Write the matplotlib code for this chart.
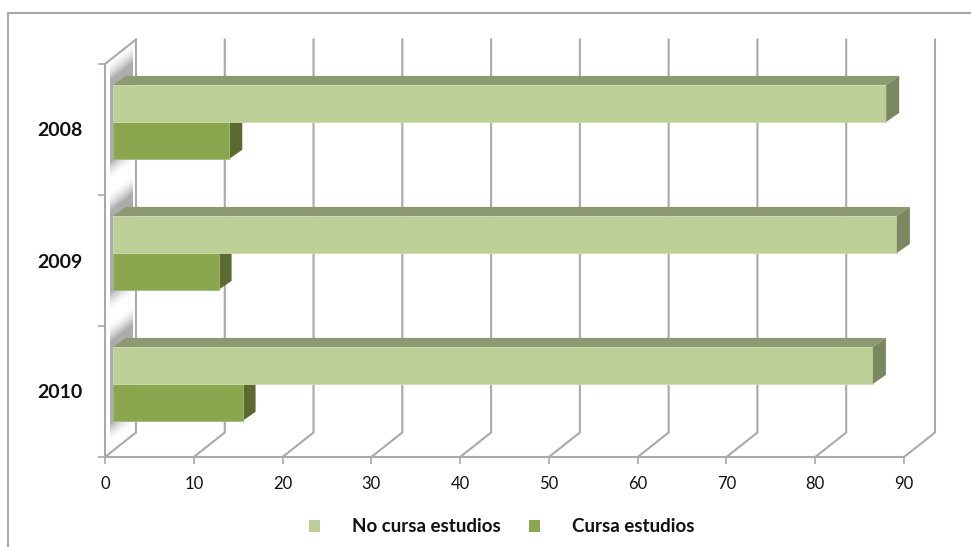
import matplotlib
matplotlib.use("Agg")
import matplotlib.pyplot as plt
import numpy as np
from matplotlib.lines import Line2D
from matplotlib.patches import Patch, Polygon

plt.rcParams['font.family'] = ['Lato', 'DejaVu Sans']

years = ["2008", "2009", "2010"]
no_cursa = [87.1, 88.3, 85.6]
cursa = [13.1, 11.9, 14.6]
x_ticks = [0, 10, 20, 30, 40, 50, 60, 70, 80, 90]

W, H = 971, 547
LIGHT = "#bbcf97"
LIGHT_TOP = "#8b9a71"
LIGHT_SIDE = "#7a8760"
DARK = "#8aa64f"
DARK_SIDE = "#5b6b30"
GRID = "#a9a9a9"

# fake 3d: sizes in data units (x = percent, y = category slots)
wall_dx, wall_dy = 3.49, 0.187
bar_x0 = 0.9
bar_dx, bar_dy = 1.46, 0.069
bar_h = 0.282
bar_y0 = 0.16

fig = plt.figure(figsize=(W / 100, H / 100), dpi=100)
ax = fig.add_axes([105 / W, 1 - 457 / H, (904 - 105) / W, (457 - 64) / H])

# chart frame, only top and left are there
fig.add_artist(Line2D([8 / W, 8 / W, 1], [0, 1 - 13 / H, 1 - 13 / H], color="#a8a8a8", lw=1.5))

# back wall gridlines and floor diagonals
for t in x_ticks:
    ax.plot([t, t + wall_dx, t + wall_dx], [3, 3 - wall_dy, -wall_dy], color=GRID, lw=1.5,
            clip_on=False, zorder=1, solid_joinstyle="miter")
ax.plot([0, wall_dx], [0, -wall_dy], color=GRID, lw=1.5, clip_on=False, zorder=1)

# soft shadow the bars leave on the side wall
xs = np.linspace(0.6, wall_dx - 0.4, 40)
ys = np.linspace(-wall_dy + 0.03, 3 - 0.03, 900)
xx, yy = np.meshgrid(xs, ys)
sheared = yy + (xx - bar_x0) * wall_dy / wall_dx
dist = np.full(xx.shape, 9.0)
for i in range(len(years)):
    top = i + bar_y0 - bar_dy + 0.02
    bottom = i + bar_y0 + 2 * bar_h
    d = np.where(sheared < top, top - sheared, np.where(sheared > bottom, sheared - bottom, 0))
    dist = np.minimum(dist, d)
alpha = np.clip(1 - dist / 0.15, 0, 1) ** 1.6 * 0.65
rgba = np.zeros(xx.shape + (4,))
rgba[..., :3] = 0.5
rgba[..., 3] = alpha
ax.imshow(rgba, extent=[xs[0], xs[-1], ys[-1], ys[0]], aspect="auto", zorder=0.5,
          interpolation="bilinear", clip_on=False)
ax.set_xlim(0, 90)
ax.set_ylim(3, 0)

# bars with their top and end faces
for i in range(len(years)):
    y_light = i + bar_y0
    y_dark = y_light + bar_h
    end_l = bar_x0 + no_cursa[i]
    end_d = bar_x0 + cursa[i]

    ax.barh(y_dark, cursa[i], bar_h, left=bar_x0, align="edge", color=DARK, zorder=3,
            edgecolor="#a3b97a", linewidth=0.6)
    ax.add_patch(Polygon([(end_d, y_dark), (end_d + bar_dx, y_dark - bar_dy),
                          (end_d + bar_dx, y_dark + bar_h - bar_dy), (end_d, y_dark + bar_h)],
                         facecolor=DARK_SIDE, edgecolor="none", zorder=2.5, clip_on=False))
    ax.barh(y_light, no_cursa[i], bar_h, left=bar_x0, align="edge", color=LIGHT, zorder=4,
            edgecolor="#cddcb2", linewidth=0.6)
    ax.add_patch(Polygon([(bar_x0, y_light), (bar_x0 + bar_dx, y_light - bar_dy),
                          (end_l + bar_dx, y_light - bar_dy), (end_l, y_light)],
                         facecolor=LIGHT_TOP, edgecolor="none", zorder=4, clip_on=False))
    ax.add_patch(Polygon([(end_l, y_light), (end_l + bar_dx, y_light - bar_dy),
                          (end_l + bar_dx, y_light + bar_h - bar_dy), (end_l, y_light + bar_h)],
                         facecolor=LIGHT_SIDE, edgecolor="none", zorder=4, clip_on=False))

ax.patch.set_visible(False)
for s in ["top", "right"]:
    ax.spines[s].set_visible(False)
for s in ["left", "bottom"]:
    ax.spines[s].set_color(GRID)
    ax.spines[s].set_linewidth(1.5)
    ax.spines[s].set_zorder(1.5)

ax.set_xticks(x_ticks)
ax.tick_params(axis="x", length=5, width=1.2, color=GRID, labelsize=12, pad=9, labelcolor="#111111")
ax.set_yticks([0, 1, 2, 3])
ax.set_yticklabels([])
ax.tick_params(axis="y", which="major", length=5, width=1.2, color=GRID)
ax.set_yticks([0.5, 1.5, 2.5], minor=True)
ax.set_yticklabels(years, minor=True, fontsize=14, fontweight="bold", color="#111111")
ax.tick_params(axis="y", which="minor", length=0, pad=16)

handles = [Patch(facecolor=LIGHT, edgecolor="none"), Patch(facecolor=DARK, edgecolor="none")]
fig.legend(handles, ["No cursa estudios", "Cursa estudios"], ncol=2, frameon=False,
           loc="center", bbox_to_anchor=(502 / W, 1 - 527 / H),
           prop={"weight": "bold", "size": 13.5}, handlelength=0.6, handleheight=0.6,
           handletextpad=1.7, columnspacing=1.5, labelcolor="#111111")

fig.savefig("out.png", dpi=100)
